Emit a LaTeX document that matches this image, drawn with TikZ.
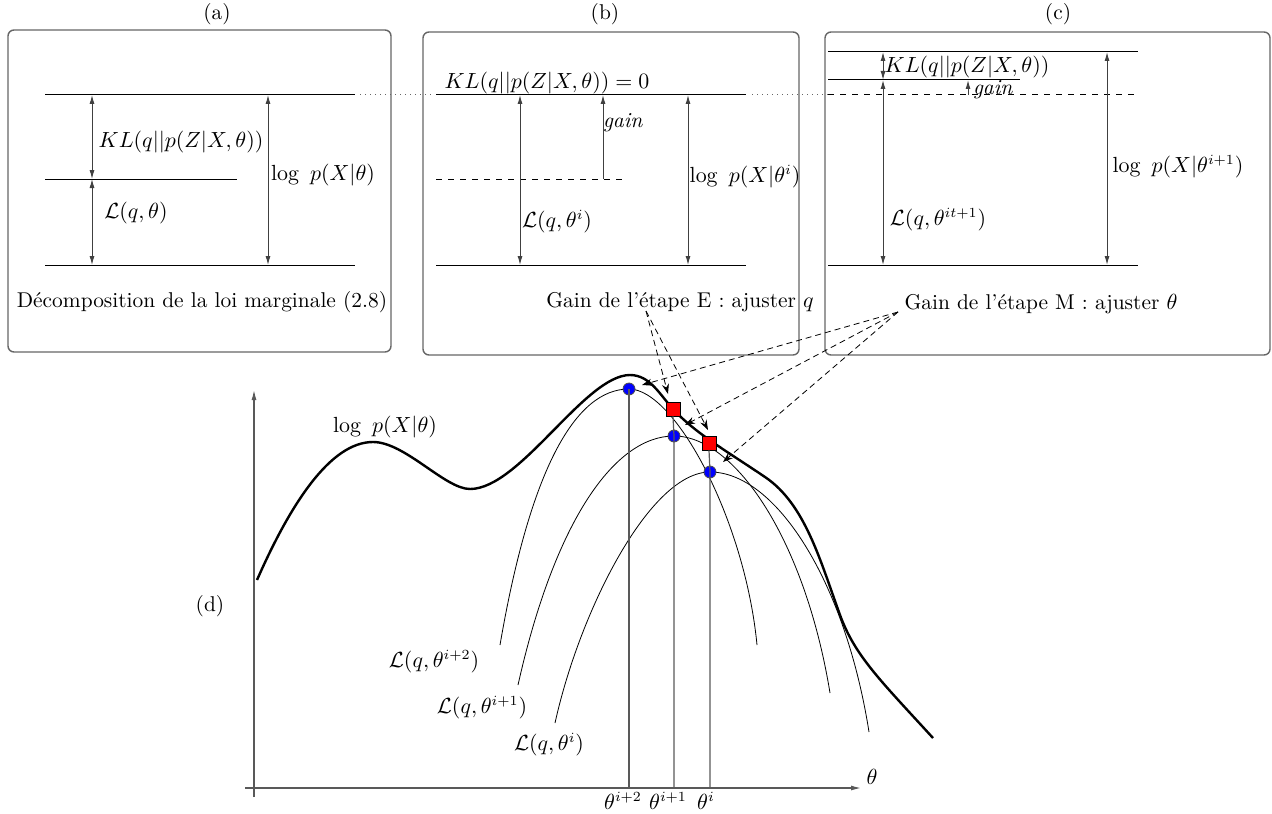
\documentclass[tikz,border=0pt]{standalone}
\usepackage{amsmath}
\usetikzlibrary{arrows.meta, positioning, calc}

\begin{document}
\begin{tikzpicture}[x=0.5pt, y=-0.5pt,
    every node/.style={font=\fontsize{10.7}{13}\selectfont},
    panel/.style={draw=black!60, line width=0.7pt, rounded corners=3pt},
    level/.style={black, line width=0.5pt},
    dim/.style={{Latex[length=4.5pt,width=2.5pt]}-{Latex[length=4.5pt,width=2.5pt]}, black!75, line width=0.5pt},
    gainarr/.style={-{Latex[length=4.5pt,width=2.5pt]}, black!75, line width=0.5pt},
    hint/.style={dashed, dash pattern=on 3pt off 2pt, -{Stealth[length=5pt,width=3.5pt]}, line width=0.4pt},
    link/.style={dotted, black!60, line width=0.5pt},
    bound/.style={black, line width=0.4pt},
    logp/.style={black, line width=1.2pt},
    drop/.style={black!65, line width=0.6pt},
    dot/.style={circle, fill=blue, draw=black!70, inner sep=0pt, minimum size=6pt},
    sq/.style={rectangle, fill=red, draw=black, inner sep=0pt, minimum size=7pt}]
  \useasboundingbox (0,0) rectangle (1272,813);

  % panel (a)
  \draw[panel] (8,30) rectangle (391,352);
  \node (capA) at (217,14) {(a)};
  \draw[level] (45,95) -- (355,95);
  \draw[level] (45,179) -- (237,179);
  \draw[level] (45,265) -- (355,265);
  \draw[dim] (92,95) -- (92,179);
  \draw[dim] (92,179) -- (92,265);
  \draw[dim] (268,95) -- (268,265);
  \node (klA) at (181,142) {$KL(q||p(Z|X,\theta))$};
  \node (lbA) at (136,213) {$\mathcal{L}(q,\theta)$};
  \node (lpA) at (323,175) {$\log\ p(X|\theta)$};
  \node (decomp) at (202,302) {Décomposition de la loi marginale (2.8)};
  \draw[link] (360,95) -- (434,95);

  % panel (b)
  \draw[panel] (423,32) rectangle (799,355);
  \node (capB) at (605,14) {(b)};
  \draw[level] (436,95) -- (746,95);
  \draw[level, dashed] (436,179) -- (627,179);
  \draw[level] (436,265) -- (746,265);
  \draw[dim] (520,95) -- (520,265);
  \draw[gainarr] (603,179) -- (603,95);
  \draw[dim] (688,95) -- (688,265);
  \node (klB) at (547,83) {$KL(q||p(Z|X,\theta))=0$};
  \node (gnB) at (623,123) {\textit{gain}};
  \node (lbB) at (557,222) {$\mathcal{L}(q,\theta^i)$};
  \node (lpB) at (745,177) {$\log\ p(X|\theta^i)$};
  \node (gainE) at (680,302) {Gain de l'étape E : ajuster $q$};
  \draw[link] (752,95) -- (828,95);

  % panel (c)
  \draw[panel] (825,32) rectangle (1270,355);
  \node (capC) at (1058,14) {(c)};
  \draw[level] (828,52) -- (1138,52);
  \draw[level] (828,80) -- (1020,80);
  \draw[level, dashed] (828,95) -- (1138,95);
  \draw[level] (828,265) -- (1138,265);
  \draw[dim] (883,52) -- (883,80);
  \draw[dim] (883,80) -- (883,265);
  \draw[gainarr] (968,95) -- (968,80);
  \draw[dim] (1107,52) -- (1107,265);
  \node (klC) at (967,67) {$KL(q||p(Z|X,\theta))$};
  \node (gnC) at (993,90) {\textit{gain}};
  \node (lbC) at (938,220) {$\mathcal{L}(q,\theta^{it+1})$};
  \node (lpC) at (1178,167) {$\log\ p(X|\theta^{i+1})$};
  \node (gainM) at (1041,304) {Gain de l'étape M : ajuster $\theta$};

  % panel (d): axes
  \coordinate (yb) at (254,797);
  \coordinate (yt) at (254,390);
  \coordinate (xl) at (245,788);
  \coordinate (xr) at (861,788);
  \draw[drop, -{Latex[length=5pt,width=2.5pt]}] (yb) -- (yt);
  \draw[drop, -{Latex[length=5pt,width=2.5pt]}] (xl) -- (xr);
  \node (thAx) at (872,777) {$\theta$};
  \node (capD) at (210,606) {(d)};

  % log-likelihood
  \draw[logp] (257,580) .. controls (290,505) and (330,442) .. (373,442)
    .. controls (405,442) and (445,489) .. (470,489)
    .. controls (520,489) and (585,375) .. (630,375)
    .. controls (650,375) and (660,395) .. (673,409)
    .. controls (695,433) and (725,450) .. (765,477)
    .. controls (805,504) and (820,560) .. (840,615)
    .. controls (855,656) and (880,680) .. (933,738);
  \node (lpD) at (385,427) {$\log\ p(X|\theta)$};

  % lower bounds
  \draw[bound] (500,645) .. controls (530,470) and (575,389) .. (629,389)
    .. controls (675,389) and (745,520) .. (757,645);
  \draw[bound] (518,685) .. controls (555,520) and (615,436) .. (674,436)
    .. controls (735,436) and (805,540) .. (830,693);
  \draw[bound] (555,723) .. controls (580,610) and (650,472) .. (710,472)
    .. controls (775,472) and (845,580) .. (869,732);
  \node (lb2) at (434,662) {$\mathcal{L}(q,\theta^{i+2})$};
  \node (lb1) at (482,708) {$\mathcal{L}(q,\theta^{i+1})$};
  \node (lb0) at (549,745) {$\mathcal{L}(q,\theta^{i})$};

  % maxima and contact points
  \node[dot] (dotA) at (629,389) {};
  \node[dot] (dotB) at (674,436) {};
  \node[dot] (dotC) at (710,472) {};
  \node[sq] (sqA) at (673,409) {};
  \node[sq] (sqB) at (709,443) {};
  \draw[drop] (dotA.center) -- (dotA |- xl);
  \draw[drop] (sqA.south) -- (dotB.center) -- (dotB |- xl);
  \draw[drop] (sqB.south) -- (dotC.center) -- (dotC |- xl);
  \node[anchor=north, inner sep=0.5pt] (tA) at (623,791) {$\theta^{i+2}$};
  \node[anchor=north, inner sep=0.5pt] (tB) at (668,791) {$\theta^{i+1}$};
  \node[anchor=north, inner sep=0.5pt] (tC) at (706,791) {$\theta^{i}$};

  % pointers
  \coordinate (eS) at (646,311);
  \coordinate (mS) at (898,312);
  \coordinate (eA) at (668,394);
  \coordinate (eB) at (708,430);
  \coordinate (mA) at (642,385);
  \coordinate (mB) at (685,425);
  \coordinate (mC) at (723,462);
  \draw[hint] (eS) -- (eA);
  \draw[hint] (eS) -- (eB);
  \draw[hint] (mS) -- (mA);
  \draw[hint] (mS) -- (mB);
  \draw[hint] (mS) -- (mC);
\end{tikzpicture}
\end{document}
